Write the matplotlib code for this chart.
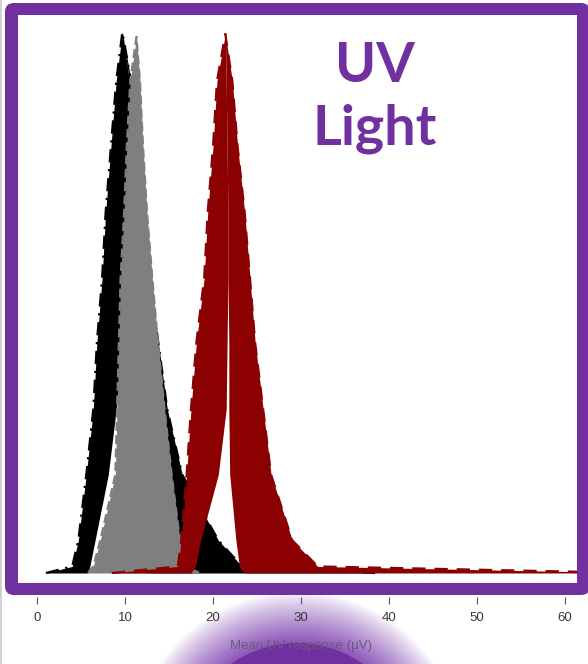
import numpy as np
import matplotlib
matplotlib.use("Agg")
import matplotlib.pyplot as plt
from matplotlib.patches import FancyBboxPatch, Circle

# -----------------------------
# 1. Density bundles (x in µV at each density level)
# -----------------------------
levels = [0.0, 0.002, 0.01, 0.03, 0.05, 0.07, 0.09, 0.11, 0.13, 0.15]
black_peak = 0.165
gray_peak = 0.1635
red_peak = 0.1644

black_left_outer = [1.0, 4.0, 4.7, 5.6, 6.4, 6.8, 7.4, 7.8, 8.4, 9.0, 9.7]
black_left_inner = [5.8, 6.0, 6.6, 8.1, 9.0, 10.0, 10.3, 10.6, 10.6, 10.5, 9.7]
black_right_inner = [12.8, 12.8, 12.8, 11.7, 10.6, 10.0, 10.3, 10.6, 10.6, 10.5, 9.7]
black_right_outer = [38.4, 23.3, 20.6, 16.5, 14.8, 13.8, 12.8, 12.0, 11.4, 10.7, 9.7]

gray_left = [5.8, 6.4, 7.2, 8.9, 9.1, 9.3, 9.5, 9.9, 10.2, 10.6, 11.3]
gray_right = [18.5, 16.8, 16.25, 15.3, 14.5, 13.75, 13.1, 12.5, 12.05, 11.7, 11.3]

red_left_outer = [8.5, 16.0, 16.4, 17.0, 17.5, 18.1, 19.0, 19.4, 20.0, 20.45, 21.4]
red_left_inner = [17.5, 18.0, 18.6, 20.6, 21.5, 21.6, 21.7, 21.7, 21.6, 21.5, 21.4]
red_right_inner = [23.5, 23.0, 22.6, 21.9, 21.8, 21.8, 21.7, 21.7, 21.6, 21.5, 21.4]
red_right_outer = [68.5, 31.9, 29.0, 26.6, 25.7, 24.8, 24.2, 23.6, 22.8, 22.2, 21.4]

x_ticks = [0, 10, 20, 30, 40, 50, 60]
x_label = "Mean UV response (\u03bcV)"
title_lines = ["UV", "Light"]

PURPLE = "#7030a0"
W, H = 588, 664


def fx(px):
    return px / W


def fy(py):
    return 1 - py / H


def draw_bundle(ax, peak, lo, li, ri, ro, color, dashes, z):
    y = levels + [peak]
    ax.fill_betweenx(y, lo, li, color=color, lw=0, zorder=z)
    ax.fill_betweenx(y, ri, ro, color=color, lw=0, zorder=z)
    ax.plot(lo + ro[::-1], y + y[::-1], color=color, lw=1.6,
            dashes=dashes, zorder=z + 0.1)


fig = plt.figure(figsize=(W / 100, H / 100), dpi=100)

# background layer in pixel units: frame + page edge
bg = fig.add_axes([0, 0, 1, 1])
bg.set_xlim(0, W)
bg.set_ylim(H, 0)
bg.axis("off")
bg.add_patch(FancyBboxPatch((5, 3), 585, 592,
                            boxstyle="round,pad=0,rounding_size=9",
                            fc=PURPLE, ec="none"))
bg.plot([1, 1], [0, H], color="#c8c8c8", lw=1.2)

# -----------------------------
# 2. Density plot
# -----------------------------
ax = fig.add_axes([fx(18), fy(583), fx(577) - fx(18), fy(15) - fy(583)])
ax.set_facecolor("white")
ax.set_xlim(-2.159, 61.364)
ax.set_ylim(-0.00305, 0.17018)
for s in ax.spines.values():
    s.set_visible(False)
ax.set_xticks([])
ax.set_yticks([])

draw_bundle(ax, black_peak, black_left_outer, black_left_inner,
            black_right_inner, black_right_outer, "black", (6, 3, 1, 3), 2)
draw_bundle(ax, gray_peak, gray_left, gray_right, gray_right, gray_right,
            "#7f7f7f", (4, 2), 3)
draw_bundle(ax, red_peak, red_left_outer, red_left_inner,
            red_right_inner, red_right_outer, "#8b0000", (6, 4), 4)

for i, line in enumerate(title_lines):
    ax.text(0.638, 1 - (82 + 63 * i - 15) / 568, line,
            transform=ax.transAxes, ha="center", va="baseline",
            fontsize=40, fontweight="bold", family="Lato", color=PURPLE)

# -----------------------------
# 3. x axis below the frame
# -----------------------------
xa = fig.add_axes([fx(18), fy(597), fx(577) - fx(18), 0.0001])
xa.set_xlim(-2.159, 61.364)
xa.patch.set_visible(False)
for s in xa.spines.values():
    s.set_visible(False)
xa.set_yticks([])
xa.xaxis.tick_top()
xa.tick_params(axis="x", direction="in", length=5, width=0.8,
               color="#555555", labeltop=False)
xa.set_xticks(x_ticks)
for t in x_ticks:
    fig.text(fx(37 + 8.8 * t), fy(618), str(t), ha="center", va="center",
             fontsize=9.5, family="Liberation Sans", color="#3a3a3a")
fig.text(fx(37 + 8.8 * 30), fy(645.5), x_label, ha="center", va="center",
         fontsize=9.5, family="Liberation Sans", color="#6b5b7b")

# -----------------------------
# 4. Glowing disc at the bottom
# -----------------------------
ov = fig.add_axes([0, 0, 1, 1])
ov.set_xlim(0, W)
ov.set_ylim(H, 0)
ov.axis("off")
cx, cy, r_solid, r_glow = 297, 757, 114, 166
gx = np.arange(100, 500)
gy = np.arange(580, H + 1)
GX, GY = np.meshgrid(gx, gy)
rr = np.hypot(GX - cx, GY - cy)
t = np.clip((r_glow - rr) / (r_glow - r_solid), 0, 1)
rgba = np.zeros(rr.shape + (4,))
rgba[..., 0] = 0x86 / 255
rgba[..., 1] = 0x4e / 255
rgba[..., 2] = 0xb5 / 255
rgba[..., 3] = 0.95 * t ** 0.85
ov.imshow(rgba, extent=(gx[0], gx[-1], gy[-1], gy[0]), interpolation="bilinear",
          zorder=1)
ov.add_patch(Circle((cx, cy), r_solid, fc=PURPLE, ec="none", zorder=2))
ov.set_xlim(0, W)
ov.set_ylim(H, 0)

fig.savefig("out.png", dpi=100)
